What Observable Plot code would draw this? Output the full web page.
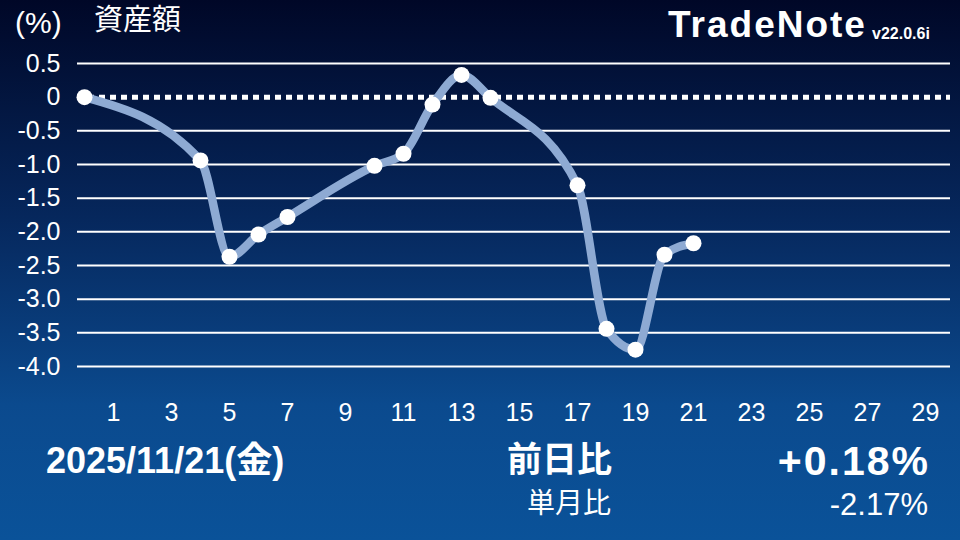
<!DOCTYPE html>
<html>
<head>
<meta charset="utf-8">
<script src="https://cdn.jsdelivr.net/npm/d3@7"></script>
<script src="https://cdn.jsdelivr.net/npm/@observablehq/plot@0.6"></script>
<style>
  html, body { margin: 0; padding: 0; }
  #wrap {
    position: relative; width: 960px; height: 540px; overflow: hidden;
    background: linear-gradient(to bottom, #000727 0%, #06275c 40%, #0b4a8e 75%, #0a5299 100%);
    font-family: "Liberation Sans", Arial, "Noto Sans CJK JP", sans-serif;
    color: white;
  }
  #chart { position: absolute; left: 0; top: 0; }
  .t { position: absolute; white-space: nowrap; line-height: 1; }
  .jp { font-family: "Liberation Sans", Arial, "Noto Sans CJK JP", sans-serif; }
</style>
</head>
<body>
<div id="wrap">
  <div id="chart"></div>
  <div class="t" style="left:15px; top:8px; font-size:30px;">(%)</div>
  <div class="t jp" style="left:94px; top:6px; font-size:29px;">資産額</div>
  <div class="t" style="left:668px; top:6px; font-size:37px; font-weight:bold; letter-spacing:2px;">TradeNote</div>
  <div class="t" style="left:872px; top:26px; font-size:16px; font-weight:bold;">v22.0.6i</div>
  <div class="t jp" style="left:46px; top:443px; font-size:36px; font-weight:bold;">2025/11/21(金)</div>
  <div class="t jp" style="left:507px; top:442px; font-size:35px; font-weight:bold;">前日比</div>
  <div class="t" style="right:30px; top:441px; font-size:41px; font-weight:bold; letter-spacing:2px;">+0.18%</div>
  <div class="t jp" style="left:527px; top:490px; font-size:28px;">単月比</div>
  <div class="t" style="right:32px; top:489px; font-size:31px;">-2.17%</div>
</div>
<script>
const days = [0, 4, 5, 6, 7, 10, 11, 12, 13, 14, 17, 18, 19, 20, 21];
const values = [0, -0.94, -2.37, -2.04, -1.78, -1.02, -0.84, -0.11, 0.33, -0.01, -1.31, -3.44, -3.75, -2.34, -2.17];
const xTicks = [1, 3, 5, 7, 9, 11, 13, 15, 17, 19, 21, 23, 25, 27, 29];
const yTicks = [0.5, 0, -0.5, -1.0, -1.5, -2.0, -2.5, -3.0, -3.5, -4.0];

const data = days.map((d, i) => ({day: d, value: values[i]}));
const gridValues = yTicks.filter(v => v !== 0);

const chart = Plot.plot({
  width: 960,
  height: 430,
  marginLeft: 77,
  marginRight: 10,
  marginTop: 0,
  marginBottom: 64,
  style: {background: "transparent", color: "white", fontFamily: "'Liberation Sans', Arial, sans-serif", overflow: "visible"},
  x: {domain: [0, 29], range: [84, 925]},
  y: {domain: [-4, 0.5], range: [366, 63]},
  marks: [
    Plot.ruleY(gridValues, {stroke: "white", strokeWidth: 2}),
    Plot.ruleY([0], {stroke: "white", strokeWidth: 5, strokeDasharray: "6,5"}),
    Plot.axisY({ticks: yTicks, tickSize: 0, tickPadding: 17, fontSize: 25, label: null,
      tickFormat: d => d === 0 ? "0" : d.toFixed(1)}),
    Plot.axisX({ticks: xTicks, tickSize: 0, tickPadding: 37, fontSize: 25, label: null}),
    Plot.line(data, {x: "day", y: "value", curve: "monotone-x", stroke: "#8eaad3", strokeWidth: 8.5}),
    Plot.dot(data, {x: "day", y: "value", r: 8, fill: "white", stroke: "none"})
  ]
});
document.getElementById("chart").appendChild(chart);
</script>
</body>
</html>
